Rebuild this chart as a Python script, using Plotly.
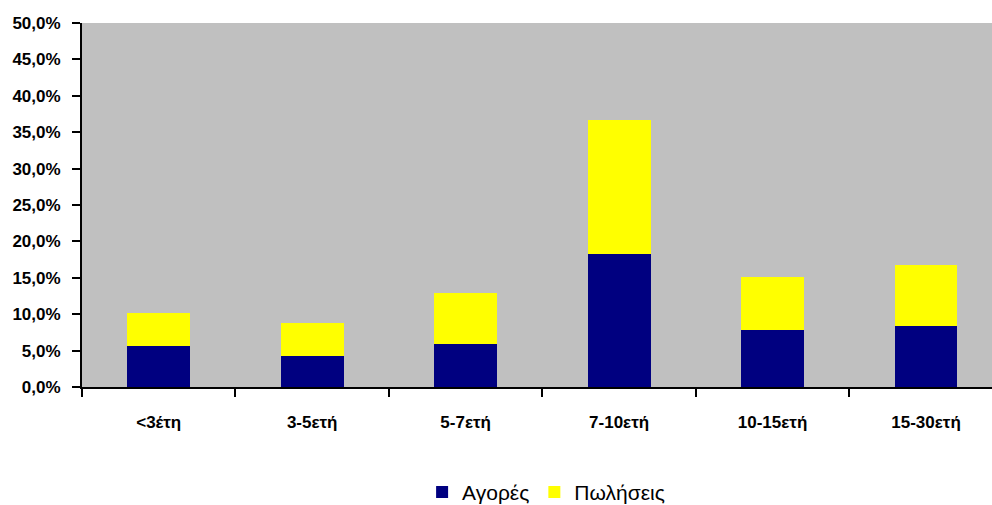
import plotly.graph_objects as go

# Age-band categories and the two stacked series (percent of total)
categories = ["<3έτη", "3-5ετή", "5-7ετή", "7-10ετή", "10-15ετή", "15-30ετή"]
purchases = [5.6, 4.3, 5.9, 18.3, 7.8, 8.4]      # Αγορές
sales = [4.6, 4.5, 7.0, 18.4, 7.3, 8.4]          # Πωλήσεις
y_ticks = [0, 5, 10, 15, 20, 25, 30, 35, 40, 45, 50]
y_tick_text = [f"{v:.1f}".replace(".", ",") + "%" for v in y_ticks]

FONT = "Liberation Sans, Arial, sans-serif"

fig = go.Figure()
fig.add_trace(go.Bar(
    x=categories, y=purchases, name="Αγορές",
    marker=dict(color="#000080", line=dict(width=0)),
    width=0.41,
))
fig.add_trace(go.Bar(
    x=categories, y=sales, name="Πωλήσεις",
    marker=dict(color="#FFFF00", line=dict(width=0)),
    width=0.41,
))

fig.update_layout(
    barmode="stack",
    width=992, height=505,
    margin=dict(l=82, r=0, t=23, b=118),
    paper_bgcolor="white",
    plot_bgcolor="#C0C0C0",
    font=dict(family=FONT, color="black"),
    showlegend=True,
    legend=dict(
        orientation="h",
        traceorder="normal",
        xref="paper", x=0.51, xanchor="center",
        yref="container", y=0.025, yanchor="middle",
        font=dict(size=21, family=FONT, color="black"),
        bgcolor="rgba(0,0,0,0)",
    ),
    xaxis=dict(
        range=[-0.5, 5.43],
        automargin=False,
        showgrid=False,
        showline=True, linecolor="black", linewidth=2,
        ticks="outside", tickson="boundaries", ticklen=8, tickwidth=2,
        tickcolor="black",
        tickfont=dict(size=17, family=FONT, color="black", weight="bold"),
        ticklabelstandoff=19,
    ),
    yaxis=dict(
        range=[0, 50],
        automargin=False,
        tickvals=y_ticks,
        ticktext=y_tick_text,
        showgrid=False, zeroline=False,
        showline=True, linecolor="black", linewidth=2,
        ticks="outside", ticklen=8, tickwidth=2, tickcolor="black",
        tickfont=dict(size=17, family=FONT, color="black", weight="bold"),
        ticklabelstandoff=8,
    ),
)

fig.write_html("out.html")
